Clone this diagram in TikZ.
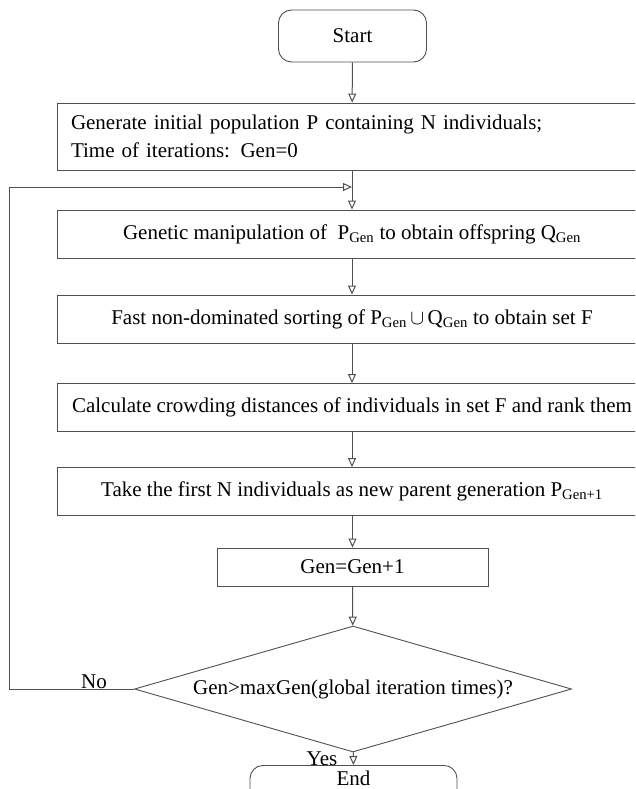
\documentclass[tikz,border=0pt]{standalone}
\usepackage{fontspec}
\setmainfont{Liberation Serif}
\usetikzlibrary{arrows.meta,shapes.geometric,positioning}
\definecolor{linegray}{HTML}{505050}
\tikzset{
  proc/.style={draw=linegray, line width=0.9pt, minimum width=590pt, minimum height=48pt, inner sep=0pt},
  term/.style={draw=linegray, line width=0.9pt, rounded corners=13pt, inner sep=0pt},
  decide/.style={draw=linegray, line width=0.9pt, diamond, shape aspect=3.47, inner sep=0pt, minimum width=437pt, minimum height=126pt},
  flow/.style={draw=linegray, line width=1pt, -{Triangle[open,length=9pt,width=8pt]}},
}
\begin{document}
\begin{tikzpicture}[x=1pt, y=-1pt, font=\fontsize{21}{28}\selectfont]
    \useasboundingbox (0,0) rectangle (635,789);
    \clip (0,0) rectangle (635,789);
    \node[term, minimum width=148pt, minimum height=52pt] (start) at (352.5,36) {Start};
    \node[proc, minimum height=67pt, text width=562pt, align=left] (init) at (352,136.5)
        {Generate initial population P containing N individuals;\\Time of iterations: Gen=0};
    \node[proc] (manip) at (352,234) {Genetic manipulation of\ \ P\textsubscript{Gen} to obtain offspring Q\textsubscript{Gen}};
    \node[proc] (sort) at (352,319) {Fast non-dominated sorting of P\textsubscript{Gen}\,$\cup$\,Q\textsubscript{Gen} to obtain set F};
    \node[proc] (crowd) at (352,407.5) {Calculate crowding distances of individuals in set F and rank them};
    \node[proc] (select) at (352,491.5) {Take the first N individuals as new parent generation P\textsubscript{Gen+1}};
    \node[proc, minimum width=271pt, minimum height=38pt] (incr) at (352.5,567) {Gen=Gen+1};
    \node[decide] (dec) at (353,689) {Gen>maxGen(global iteration times)?};
    \node[term, minimum width=207pt, minimum height=50pt, anchor=north] (stop) at (353.5,765) {};
    \node at (353.5,778) {End};
    \coordinate (merge) at (352,187);
    \draw[flow] (start) -- (init);
    \draw[flow] (init) -- (manip);
    \draw[flow] (manip) -- (sort);
    \draw[flow] (sort) -- (crowd);
    \draw[flow] (crowd) -- (select);
    \draw[flow] (select.south -| incr) -- (incr);
    \draw[flow] (incr) -- (dec);
    \draw[flow] (dec) -- (stop);
    \draw[flow] (dec.west) -- ++(-125,0) |- (merge);
    \node at (94,682) {No};
    \node at (322,759) {Yes};
\end{tikzpicture}
\end{document}
